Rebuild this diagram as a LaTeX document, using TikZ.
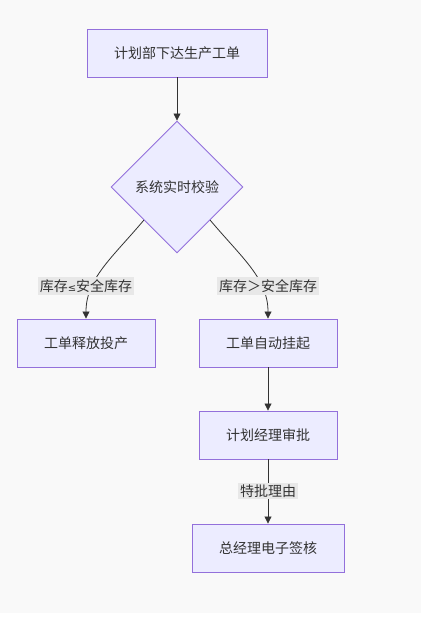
\documentclass[tikz,border=0pt]{standalone}
\usepackage{fontspec}
\setmainfont{Noto Sans CJK SC}
\newfontfamily\symfont{DejaVu Sans}
\usepackage{xcolor}
\usepackage{tikz}
\usetikzlibrary{positioning, shapes.geometric, arrows.meta}
\definecolor{boxfill}{HTML}{ECECFF}
\definecolor{boxline}{HTML}{9370DB}
\definecolor{ink}{HTML}{333333}
\definecolor{lblfill}{HTML}{E8E8E8}
\definecolor{pagebg}{HTML}{F9F9F9}

\begin{document}
\begin{tikzpicture}[x=1pt,y=-1pt,font=\fontsize{14}{16}\selectfont]
						\tikzstyle{box}=[rectangle,draw=boxline,line width=0.9pt,fill=boxfill,text=ink,minimum height=48,minimum width=138,inner sep=0]
						\tikzstyle{check}=[diamond,draw=boxline,line width=0.9pt,fill=boxfill,text=ink,minimum width=132,minimum height=132,inner sep=0]
						\tikzstyle{lbl}=[fill=lblfill,text=ink,inner sep=2pt]
						\tikzstyle{arr}=[draw=ink,line width=0.8pt,-{Triangle[length=7pt,width=7pt]}]
						\useasboundingbox (0,0) rectangle (422,620);
						\fill[pagebg] (0,0) rectangle (421,613);
						\node[box,minimum width=180](order) at (177,53) {计划部下达生产工单};
						\node[check](chk) at (177,187) {系统实时校验};
						\node[box](release) at (86,343) {工单释放投产};
						\node[box](hold) at (268,343) {工单自动挂起};
						\node[box](plan) at (268,435) {计划经理审批};
						\node[box,minimum width=152](gm) at (268,548) {总经理电子签核};
						\draw[arr](order) -- (chk);
						\draw[arr](chk.south west) .. controls +(-32,38) and +(0,-40) .. (release.north);
						\draw[arr](chk.south east) .. controls +(32,38) and +(0,-40) .. (hold.north);
						\draw[arr](hold) -- (plan);
						\draw[arr](plan) -- (gm);
						\node[lbl](low) at (86,286) {库存{\symfont\fontsize{10}{12}\selectfont ≤}安全库存};
						\node[lbl](high) at (268,286) {库存＞安全库存};
						\node[lbl](why) at (268,491) {特批理由};
					\end{tikzpicture}
\end{document}
